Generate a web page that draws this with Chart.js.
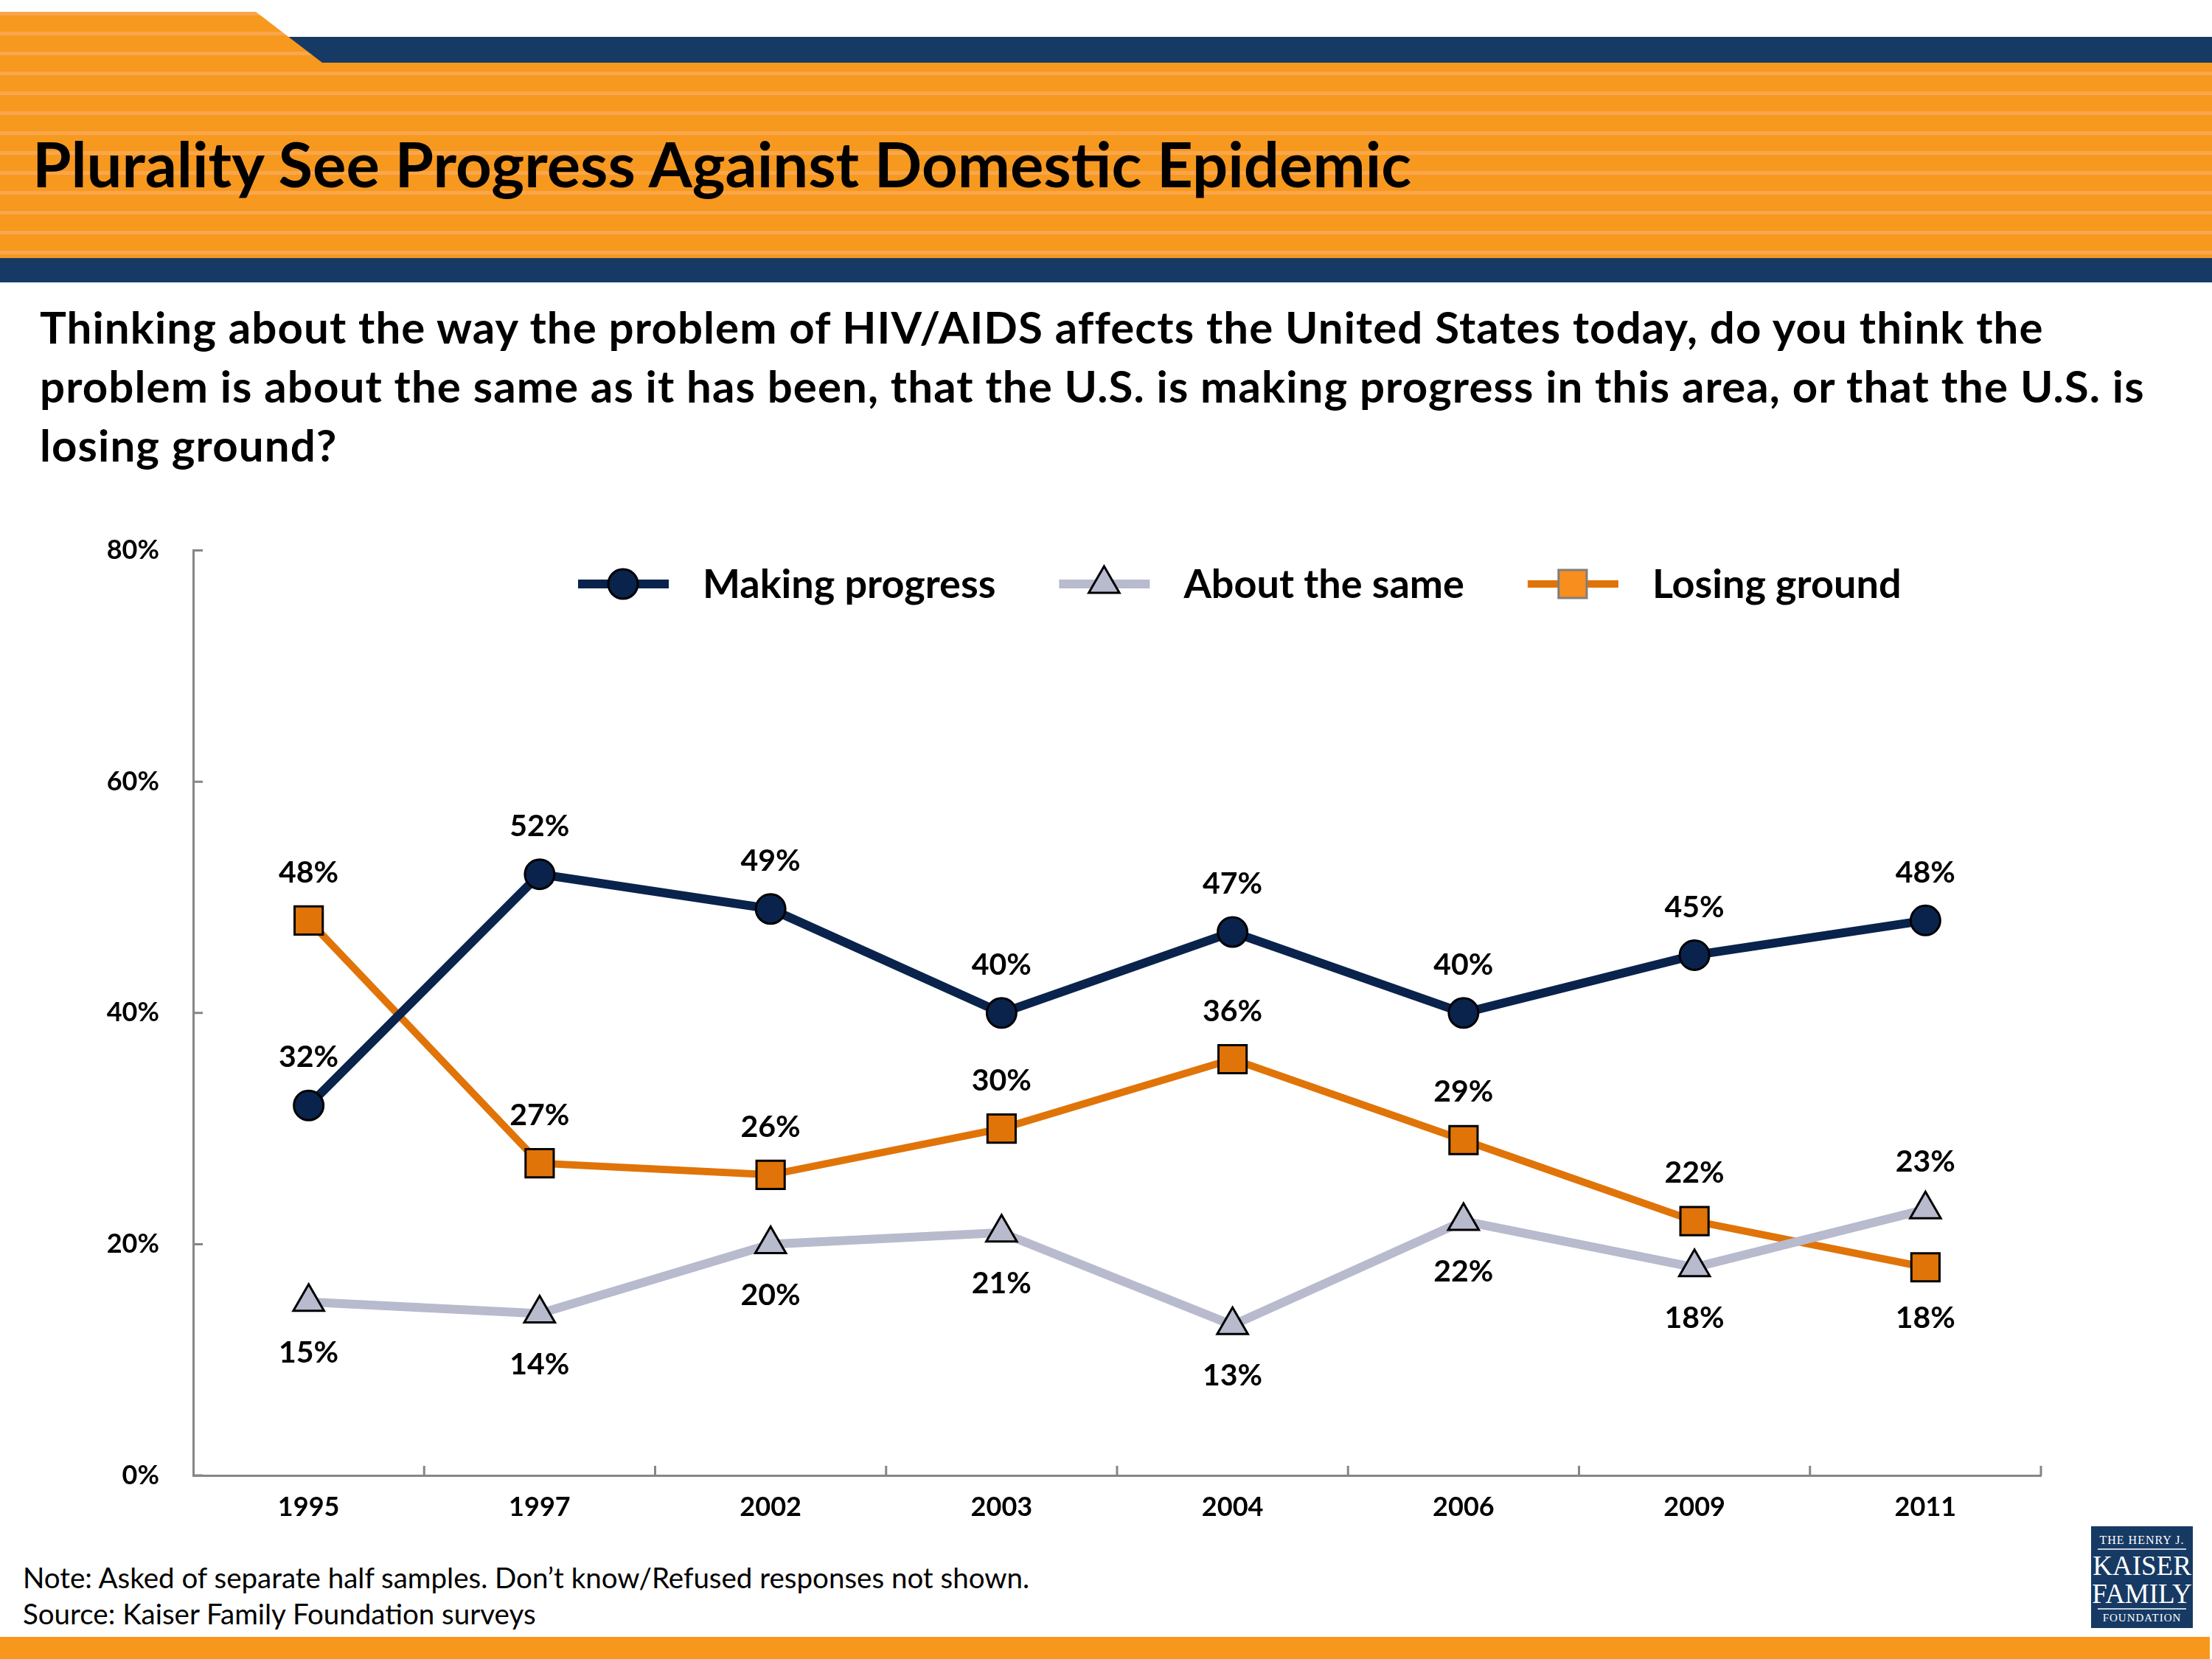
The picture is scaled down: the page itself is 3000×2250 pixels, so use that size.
<!DOCTYPE html>
<html>
<head>
<meta charset="utf-8">
<script src="https://cdn.jsdelivr.net/npm/chart.js@4.4.1/dist/chart.umd.min.js"></script>
<style>
  body { margin: 0; width: 3000px; height: 2250px; position: relative; overflow: hidden; background: #fff; font-family: Lato, "Noto Sans", sans-serif; }
  .navyTop { position: absolute; left: 0; top: 50px; width: 3000px; height: 35px; background: #173a64; }
  .orange { position: absolute; left: 0; top: 16px; width: 3000px; height: 334px;
    background: repeating-linear-gradient(to bottom, #f9a64c 0px, #f9a64c 5px, #f7981f 5px, #f7981f 27px);
    clip-path: polygon(0 0, 347px 0, 437px 69px, 3000px 69px, 3000px 334px, 0 334px); }
  .navyBottom { position: absolute; left: 0; top: 350px; width: 3000px; height: 33px; background: #173a64; }
  .title { position: absolute; left: 44px; top: 179px; font-size: 85px; line-height: 85px; font-weight: 700; color: #000; white-space: nowrap; }
  .question { position: absolute; left: 54px; top: 403px; font-size: 60px; line-height: 80px; letter-spacing: 1.1px; font-weight: 700; color: #000; white-space: nowrap; }
  #wrap { position: absolute; left: 0; top: 687px; width: 3000px; height: 1413px; }
  .note { position: absolute; left: 31px; font-size: 38.5px; line-height: 46px; color: #000; white-space: nowrap; }
  .footer { position: absolute; left: 0; top: 2220px; width: 2997px; height: 30px; background: #f7981d; }
  .logo { position: absolute; left: 2836px; top: 2070px; width: 138px; height: 138px; background: #173a64; color: #fff;
    font-family: "Liberation Serif", "DejaVu Serif", serif; text-align: center; }
  .logo div { position: absolute; left: 0; width: 138px; white-space: nowrap; }
  .logo .rule { left: 9px; width: 120px; height: 2px; background: #c9d0dc; }
</style>
</head>
<body>
<div class="navyTop"></div>
<div class="orange"></div>
<div class="navyBottom"></div>
<div class="title">Plurality See Progress Against Domestic Epidemic</div>
<div class="question">Thinking about the way the problem of HIV/AIDS affects the United States today, do you think the<br>problem is about the same as it has been, that the U.S. is making progress in this area, or that the U.S. is<br>losing ground?</div>

<div id="wrap"><canvas id="chart" width="3000" height="1413"></canvas></div>

<div class="note" style="top:2116px">Note: Asked of separate half samples. Don’t know/Refused responses not shown.</div>
<div class="note" style="top:2165px">Source: Kaiser Family Foundation surveys</div>

<div class="logo">
  <div style="top:10px;font-size:16px;letter-spacing:1px">THE HENRY J.</div>
  <div class="rule" style="top:30px"></div>
  <div style="top:34px;font-size:37px;line-height:40px">KAISER</div>
  <div style="top:72px;font-size:37px;line-height:40px">FAMILY</div>
  <div class="rule" style="top:111px"></div>
  <div style="top:116px;font-size:15px;letter-spacing:1px">FOUNDATION</div>
</div>
<div class="footer"></div>

<script>
const years = ['1995', '1997', '2002', '2003', '2004', '2006', '2009', '2011'];
const makingProgress = [32, 52, 49, 40, 47, 40, 45, 48];
const aboutTheSame = [15, 14, 20, 21, 13, 22, 18, 23];
const losingGround = [48, 27, 26, 30, 36, 29, 22, 18];
const seriesNames = ['Making progress', 'About the same', 'Losing ground'];
const yTickValues = [0, 20, 40, 60, 80];

const FONT = 'Lato, "Noto Sans", sans-serif';
const AXIS_GREY = '#868686';

// value labels: under the point when it is the lowest of the three that year
const valueLabels = {
    id: 'valueLabels',
    afterDatasetsDraw(chart) {
        const ctx = chart.ctx;
        const sets = chart.data.datasets;
        ctx.save();
        ctx.font = 'bold 41px ' + FONT;
        ctx.fillStyle = '#000';
        ctx.textAlign = 'center';
        ctx.textBaseline = 'middle';
        sets.forEach((ds, i) => {
            chart.getDatasetMeta(i).data.forEach((pt, j) => {
                const v = ds.data[j];
                const lowest = Math.min(...sets.map(s => s.data[j]));
                const y = v === lowest ? pt.y + 69 : pt.y - 65;
                ctx.fillText(v + '%', pt.x, y);
            });
        });
        ctx.restore();
    }
};

// tick marks point inward, like the original
const innerTicks = {
    id: 'innerTicks',
    afterDraw(chart) {
        const ctx = chart.ctx;
        const area = chart.chartArea;
        const x = chart.scales.x;
        const y = chart.scales.y;
        ctx.save();
        ctx.strokeStyle = AXIS_GREY;
        ctx.lineWidth = 3;
        ctx.beginPath();
        yTickValues.forEach(v => {
            const py = y.getPixelForValue(v);
            ctx.moveTo(area.left, py);
            ctx.lineTo(area.left + 13, py);
        });
        for (let j = 1; j <= years.length; j++) {
            const px = j < years.length
                ? (x.getPixelForValue(j - 1) + x.getPixelForValue(j)) / 2
                : area.right;
            ctx.moveTo(px, area.bottom);
            ctx.lineTo(px, area.bottom - 13);
        }
        ctx.stroke();
        ctx.restore();
    }
};

const lineLegend = {
    id: 'lineLegend',
    afterDraw(chart) {
        const ctx = chart.ctx;
        const cy = 105;
        let left = 784;
        ctx.save();
        ctx.font = 'bold 54px ' + FONT;
        ctx.textBaseline = 'middle';
        chart.data.datasets.forEach(ds => {
            ctx.strokeStyle = ds.borderColor;
            ctx.lineWidth = ds.borderWidth;
            ctx.beginPath();
            ctx.moveTo(left, cy);
            ctx.lineTo(left + 123, cy);
            ctx.stroke();
            ctx.fillStyle = ds.legendFill || ds.pointBackgroundColor;
            ctx.strokeStyle = ds.legendEdge || ds.pointBorderColor;
            ctx.lineWidth = ds.pointBorderWidth;
            Chart.helpers.drawPoint(ctx, {
                pointStyle: ds.pointStyle, rotation: 0,
                radius: ds.pointRadius, borderWidth: ds.pointBorderWidth
            }, left + 61, cy);
            ctx.fillStyle = '#000';
            ctx.fillText(ds.label, left + 169, cy + 2);
            left += 169 + ctx.measureText(ds.label).width + 86;
        });
        ctx.restore();
    }
};

function makeSet(label, data, color, width, style, radius) {
    return {
        label: label,
        data: data,
        borderColor: color,
        borderWidth: width,
        pointStyle: style,
        pointRadius: radius,
        pointHoverRadius: radius,
        pointBackgroundColor: color,
        pointBorderColor: '#000',
        pointBorderWidth: 3,
        tension: 0,
        clip: false
    };
}

document.addEventListener('DOMContentLoaded', function() {
    const ctx = document.getElementById('chart').getContext('2d');
    const losing = makeSet(seriesNames[2], losingGround, '#e07408', 10, 'rect', 27);
    losing.legendFill = '#f88e1e';
    losing.legendEdge = '#7f7f7f';
    new Chart(ctx, {
        type: 'line',
        data: {
            labels: years,
            datasets: [
                makeSet(seriesNames[0], makingProgress, '#0a234c', 12, 'circle', 20),
                makeSet(seriesNames[1], aboutTheSame, '#b8bacd', 12, 'triangle', 24),
                losing
            ]
        },
        options: {
            responsive: false,
            devicePixelRatio: 1,
            animation: false,
            // the top gap comes from the y tick padding (half a label + 38)
            layout: { autoPadding: false, padding: { top: 0, right: 232, left: 0, bottom: 0 } },
            plugins: { legend: { display: false }, tooltip: { enabled: false } },
            scales: {
                x: {
                    offset: true,
                    grid: { display: false },
                    border: { display: true, color: AXIS_GREY, width: 3 },
                    ticks: { color: '#000', font: { family: FONT, size: 36, weight: 'bold' }, padding: 14 },
                    afterFit(scale) { scale.height = 99; }
                },
                y: {
                    min: 0,
                    max: 80,
                    grid: { display: false },
                    border: { display: true, color: AXIS_GREY, width: 3 },
                    afterBuildTicks(scale) { scale.ticks = yTickValues.map(v => ({ value: v })); },
                    ticks: {
                        color: '#000',
                        font: { family: FONT, size: 36, weight: 'bold' },
                        padding: 38,
                        callback: v => v + '%'
                    },
                    afterFit(scale) { scale.width = 262; }
                }
            }
        },
        plugins: [innerTicks, valueLabels, lineLegend]
    });
});
</script>
</body>
</html>
